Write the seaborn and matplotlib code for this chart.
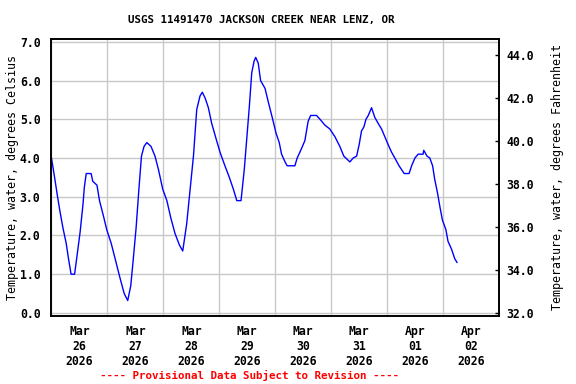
import pandas as pd
import seaborn as sns
import matplotlib.pyplot as plt
import matplotlib.dates as mdates
from matplotlib.ticker import FormatStrFormatter, MultipleLocator

# gage readings, hours since Mar 26 00:00 and water temperature in deg C
start = pd.Timestamp('2026-03-26 00:00')
hours = [0.0, 1.2, 2.6, 3.7, 4.9, 6.3, 7.3, 8.4, 9.9, 10.9, 12.3, 13.5, 14.1, 14.9,
         17.0, 17.7, 19.5, 20.6, 22.3, 23.7, 25.6, 27.3, 29.4, 31.2, 32.7, 34.0,
         35.1, 36.3, 37.5, 38.6, 39.7, 40.9, 42.7, 44.4, 45.9, 47.7, 49.5, 51.2,
         53.0, 54.9, 56.3, 58.0, 59.4, 60.9, 62.3, 63.7, 64.7, 65.9, 67.3, 68.7,
         70.6, 72.3, 74.4, 76.3, 78.0, 79.5, 81.3, 82.7, 83.7, 84.9, 85.9, 86.9,
         87.6, 88.7, 89.7, 91.6, 93.0, 94.9, 96.3, 97.7, 98.7, 100.2, 101.1, 104.4,
         105.4, 107.3, 108.7, 110.1, 111.2, 113.7, 115.2, 117.3, 119.4, 121.6,
         123.7, 125.4, 128.0, 129.4, 130.9, 132.0, 133.0, 134.0, 134.9, 135.9,
         137.3, 138.7, 140.1, 141.6, 143.0, 144.4, 145.9, 147.3, 149.1, 151.3,
         153.4, 154.5, 155.9, 157.3, 159.4, 159.7, 161.1, 162.3, 163.5, 164.4,
         165.6, 166.6, 167.7, 169.2, 170.1, 171.6, 173.0, 174.0]
temp_c = [4.0, 3.55, 3.0, 2.6, 2.2, 1.8, 1.4, 1.0, 1.0, 1.45, 2.1, 2.8, 3.25, 3.6,
          3.6, 3.4, 3.3, 2.9, 2.5, 2.15, 1.8, 1.4, 0.9, 0.5, 0.32, 0.7,
          1.4, 2.2, 3.2, 4.05, 4.3, 4.4, 4.3, 4.05, 3.7, 3.2, 2.9, 2.45,
          2.05, 1.75, 1.6, 2.3, 3.15, 4.05, 5.25, 5.6, 5.7, 5.55, 5.3, 4.9,
          4.5, 4.15, 3.8, 3.5, 3.2, 2.9, 2.9, 3.7, 4.45, 5.35, 6.2, 6.5,
          6.6, 6.45, 6.0, 5.8, 5.45, 5.0, 4.65, 4.4, 4.1, 3.9, 3.8, 3.8,
          4.0, 4.25, 4.45, 4.95, 5.1, 5.1, 5.0, 4.85, 4.75, 4.55,
          4.3, 4.05, 3.9, 4.0, 4.05, 4.35, 4.7, 4.8, 5.0, 5.1,
          5.3, 5.05, 4.9, 4.75, 4.55, 4.35, 4.15, 4.0, 3.8, 3.6,
          3.6, 3.8, 4.0, 4.1, 4.1, 4.2, 4.05, 4.0, 3.8, 3.45,
          3.1, 2.75, 2.4, 2.15, 1.85, 1.65, 1.4, 1.3]

df = pd.DataFrame({'time': start + pd.to_timedelta(hours, unit='h'), 'temp': temp_c})

sns.set_style('white')
plt.rcParams['font.family'] = ['DejaVu Sans Mono']
plt.rcParams['font.weight'] = 'bold'
plt.rcParams['font.size'] = 8.3
for key in ['text.color', 'axes.labelcolor', 'xtick.color', 'ytick.color']:
    plt.rcParams[key] = 'black'

fig = plt.figure(figsize=(5.76, 3.84), dpi=100)
ax = fig.add_axes([0.0894, 0.178, 0.777, 0.72])
sns.lineplot(data=df, x='time', y='temp', ax=ax, color='#0000ff', linewidth=1)

ylo, yhi = -0.07, 7.07
ax.set_xlim(start, start + pd.Timedelta(days=8))
ax.set_ylim(ylo, yhi)
ax.yaxis.set_major_locator(MultipleLocator(1))
ax.yaxis.set_major_formatter(FormatStrFormatter('%.1f'))
ax.xaxis.set_major_locator(mdates.HourLocator(byhour=12))
ax.xaxis.set_major_formatter(mdates.DateFormatter('%b\n%d\n%Y'))
ax.xaxis.set_minor_locator(mdates.DayLocator())
ax.grid(which='minor', axis='x', color='#c8c8c8', linewidth=1)
ax.grid(which='major', axis='y', color='#c8c8c8', linewidth=1)
ax.tick_params(axis='both', which='both', length=0)
ax.tick_params(axis='y', pad=8)
ax.tick_params(axis='x', pad=7)
ax.set_xlabel('')
ax.set_ylabel('Temperature, water, degrees Celsius', fontsize=8.4, va='center')
ax.yaxis.set_label_coords(-0.088, 0.5)
for s in ax.spines.values():
    s.set_color('black')
    s.set_linewidth(1.2)

# right axis in Fahrenheit
ax2 = ax.twinx()
ax2.set_ylim(ylo * 1.8 + 32, yhi * 1.8 + 32)
ax2.yaxis.set_major_locator(MultipleLocator(2))
ax2.yaxis.set_major_formatter(FormatStrFormatter('%.1f'))
ax2.tick_params(axis='y', direction='in', length=3, width=1, pad=5)
ax2.set_ylabel('Temperature, water, degrees Fahrenheit', fontsize=8.4, va='center')
ax2.yaxis.set_label_coords(1.13, 0.5)
for s in ax2.spines.values():
    s.set_color('black')
    s.set_linewidth(1.2)

fig.text(261.5 / 576, 1 - 20 / 384, 'USGS 11491470 JACKSON CREEK NEAR LENZ, OR',
         ha='center', va='center', fontsize=7.8, color='black')
fig.text(249 / 576, 1 - 375 / 384, '---- Provisional Data Subject to Revision ----',
         ha='center', va='center', fontsize=7.8, color='red')

plt.savefig('out.png', dpi=100)
